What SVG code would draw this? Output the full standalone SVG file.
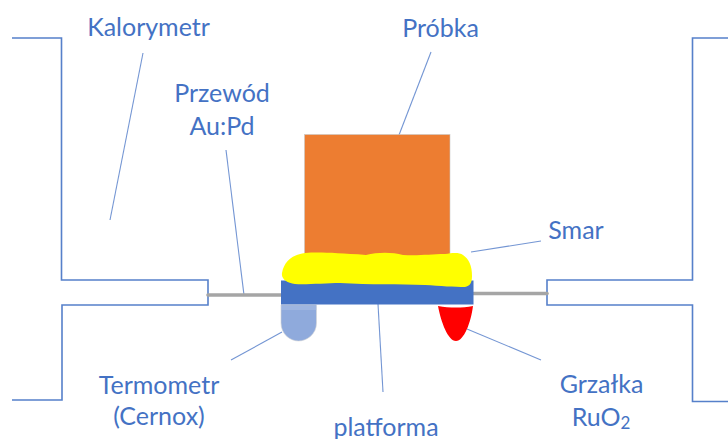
<svg xmlns="http://www.w3.org/2000/svg" width="728" height="439" viewBox="0 0 728 439">
<style>
text{font-family:"Lato","Carlito","Open Sans",sans-serif;font-size:25px;fill:#4472C4;text-anchor:middle}
.wall{fill:none;stroke:#4472C4;stroke-width:1.6;opacity:.9}
.lead{fill:none;stroke:#4472C4;stroke-width:1.1;opacity:.75}
.wire{stroke:#A5A5A5;stroke-width:3.6;stroke-linecap:round}
</style>
<rect width="728" height="439" fill="#fff"/>
<g id="kalorymetr-left"><path class="wall" d="M12 38H61.500V280H208V305H62V400H12"/></g>
<g id="kalorymetr-right"><path class="wall" d="M728 38H692.500V280H547V305H692.500V401.500H728"/></g>
<g id="connectors">
<path class="lead" d="M143 53L110 220"/>
<path class="lead" d="M226 150L244 295"/>
<path class="lead" d="M431 52L399 135"/>
<path class="lead" d="M541 241L471 252"/>
<path class="lead" d="M541 360L467 329"/>
<path class="lead" d="M231 360L282 332"/>
<path class="lead" d="M378 304L383 392"/>
</g>
<g id="przewod">
<line class="wire" x1="208" y1="295" x2="281" y2="295"/>
<line class="wire" x1="473" y1="293.500" x2="547" y2="293.500"/>
</g>
<g id="probka"><rect x="304.500" y="134.500" width="145.500" height="125" fill="#ED7D31" stroke="#c9c9c9" stroke-width=".6"/></g>
<g id="termometr"><path d="M281 305H316.500V323C316.500 334 307 341 298.500 341C290 341 281 334 281 323Z" fill="#8FAADC" stroke="#d5d5d5" stroke-width=".6"/><path d="M281 307H316.500M281 309H316.500" stroke="#B4C7E7" stroke-width=".8"/></g>
<g id="grzalka"><path d="M438 306C450 308 462 308 473 306C471 322 464 341 456 341C448 341 441 322 438 306Z" fill="#FF0000"/></g>
<g id="platforma"><rect x="281" y="280.500" width="192.500" height="24" fill="#4472C4"/></g>
<g id="smar"><path d="M282 273C284 262 291 255 305 253C320 252 335 253 366 255C378 252 392 252 403 255C420 256 430 254 445 254C452 253 459 252 463 255C469 259 472 266 472 276C472 283 470 286 465 287C455 287 440 286 425 285C400 284 370 285 340 283C325 283 305 285 295 284C287 283 281 279 282 273Z" fill="#FFFF00"/></g>
<g id="labels">
<text x="148.500" y="35.500">Kalorymetr</text>
<text x="440.500" y="36.500">Próbka</text>
<text x="222" y="101.500">Przewód</text>
<text x="222" y="134.500">Au:Pd</text>
<text x="576" y="239">Smar</text>
<text x="159" y="393.500">Termometr</text>
<text x="159" y="424.500">(Cernox)</text>
<text x="386" y="435.500">platforma</text>
<text x="601.500" y="392.500">Grzałka</text>
<text x="601" y="425.500">RuO<tspan font-size="17" dy="3">2</tspan></text>
</g>
</svg>
